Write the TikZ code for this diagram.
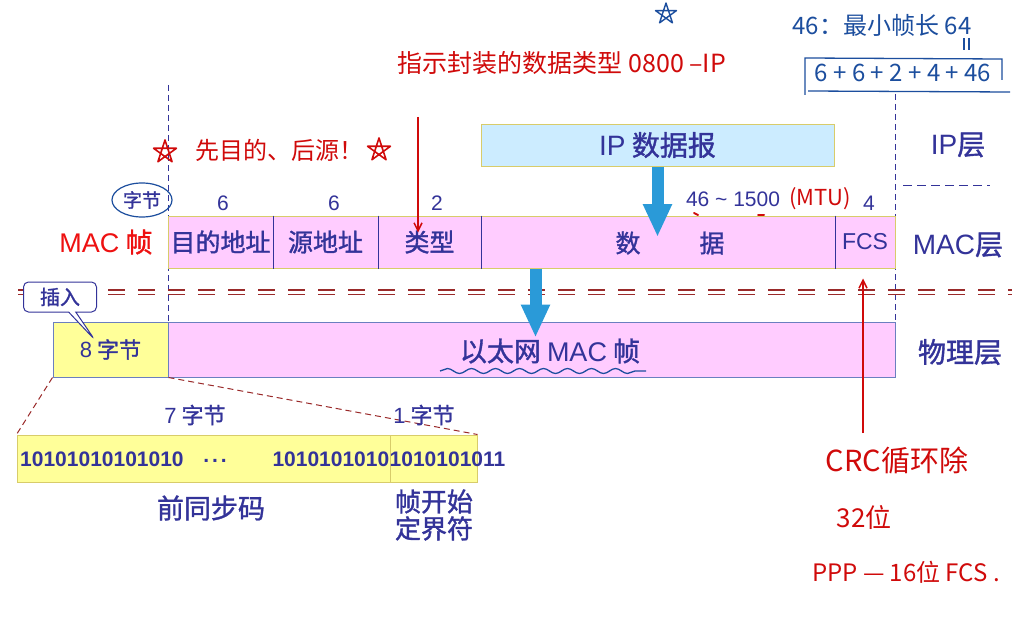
\documentclass[tikz,border=0pt]{standalone}
\usepackage{fontspec}
\setmainfont{Noto Sans CJK SC}
\newfontfamily\inkfont{Noto Sans CJK SC}[FakeBold=1.3]
\newfontfamily\arial{Liberation Sans}
\usetikzlibrary{arrows.meta,decorations.pathmorphing,shapes.callouts,shapes.geometric,calc}

\definecolor{ink}{HTML}{333399}
\definecolor{pinkfill}{HTML}{FFCCFF}
\definecolor{yelfill}{HTML}{FFFF99}
\definecolor{ipfill}{HTML}{CCECFF}
\definecolor{goldline}{HTML}{D8CC6A}
\definecolor{boxblue}{HTML}{6B7FC0}
\definecolor{penred}{HTML}{D00A0A}
\definecolor{macred}{HTML}{EE1111}
\definecolor{penblue}{HTML}{1C4E9E}
\definecolor{arrowblue}{HTML}{2A9AD8}
\definecolor{sepred}{HTML}{9A2A2A}

\tikzset{
  fs/.style={font=\fontsize{#1}{#1}\selectfont},
  fsb/.style={font=\inkfont\fontsize{#1}{#1}\selectfont},
  fsl/.style={font=\arial\fontsize{#1}{#1}\selectfont},
  binary/.style={text=ink, inner sep=0pt, font=\arial\bfseries\fontsize{21}{21}\selectfont},
  lbl/.style={text=ink, inner sep=0pt},
  note/.style={text=penred, inner sep=0pt},
  bluenote/.style={text=penblue, inner sep=0pt},
  field/.style={rectangle, fill=pinkfill, draw=goldline, line width=1pt,
    minimum height=52pt, inner sep=0pt, text=ink, fsb=25},
  physbox/.style={rectangle, draw=boxblue, line width=1pt,
    minimum height=55pt, inner sep=0pt, text=ink},
  prebox/.style={rectangle, fill=yelfill, draw=goldline, line width=1pt,
    minimum height=47pt, inner sep=0pt},
  guide/.style={ink, line width=1pt, dash pattern=on 6pt off 4pt},
  fatarrow/.style={arrowblue, line width=12pt, -{Triangle[length=33pt,width=27pt]}},
  penarrow/.style={penred, line width=1.5pt, -{Straight Barb[length=8pt,width=8pt]}},
  pentagram/.pic={\draw[pic actions, line join=round]
    (270:1) -- (54:1) -- (198:1) -- (342:1) -- (126:1) -- cycle;}
}

\begin{document}
\begin{tikzpicture}[x=1pt,y=-1pt]
\useasboundingbox[fill=white] (0,0) rectangle (1021,618);

% layer boundaries
\draw[guide] (168,85) -- (168,322);
\draw[guide] (895,94) -- (895,322);
\draw[ink, line width=1pt, dash pattern=on 9pt off 5pt] (903,185) -- (990,185);

% separator between MAC layer and physical layer
\draw[sepred, line width=1.3pt, dash pattern=on 17pt off 13pt] (18,290) -- (1012,290);
\draw[sepred, line width=1.3pt, dash pattern=on 17pt off 13pt] (18,294.5) -- (1012,294.5);

% IP datagram
\node[rectangle, fill=ipfill, draw=goldline, line width=1pt, minimum width=353pt,
  minimum height=42pt, inner sep=0pt, text=ink, fsb=28] (ip) at (657.5,145) {{\arial IP} 数据报};

% MAC frame fields
\node[field, minimum width=105pt] (dst) at (220.5,242) {目的地址};
\node[field, minimum width=105pt] (src) at (325.5,242) {源地址};
\node[field, minimum width=103pt] (type) at (429.5,242) {类型};
\node[field, minimum width=354pt] (data) at (658,242) {};
\node[field, minimum width=60pt, fsl=23] (fcs) at (865,242) {FCS};
\foreach \f in {dst,src,type,data}
  \draw[ink, line width=1.2pt] (\f.north east) -- (\f.south east);
\node[lbl, fsb=25] at (628,243) {数};
\node[lbl, fsb=25] at (712,243) {据};

% field sizes
\node[lbl, fsl=21] at (223,203) {6};
\node[lbl, fsl=21] at (334,203) {6};
\node[lbl, fsl=21] at (437,203) {2};
\node[lbl, fsl=21] at (733,199) {46 \char`~{} 1500};
\node[lbl, fsl=21] at (869,203) {4};
\node[ellipse, draw=penblue, line width=1.2pt, minimum width=60pt, minimum height=34pt,
  inner sep=0pt, text=ink, fsb=19] (unit) at (142,200) {字节};

% layer names
\node[text=macred, inner sep=0pt, fsb=27] at (106,242) {{\arial MAC} 帧};
\node[lbl, fsb=28] at (958,145) {{\arial IP}层};
\node[lbl, fsb=28] at (958,245) {{\arial MAC}层};
\node[lbl, fsb=28] at (960,352) {物理层};

% physical layer frame
\node[physbox, fill=yelfill, minimum width=115pt, fsb=22] (pre) at (110.5,349.5) {{\arial 8} 字节};
\node[physbox, fill=pinkfill, minimum width=727pt] (eth) at (531.5,349.5) {};
\node[lbl, fsb=27] (ethlbl) at (550,351) {以太网 {\arial MAC} 帧};
\draw[penblue, line width=1.3pt, decorate,
  decoration={snake, amplitude=2.5pt, segment length=24pt}] (440,371) -- (646,371);

% encapsulation arrows
\draw[fatarrow] (ip.south) -- ($(ip.south |- data.center)+(0,-5)$);
\draw[fatarrow] ($(data.south west)+(55,0)$) -- ($(data.south west |- eth.center)+(55,-12)$);

% insertion callout
\node[rectangle callout, rounded corners=5pt, draw=ink, fill=white, line width=1pt,
  minimum width=73pt, minimum height=30pt, inner sep=0pt, text=ink, fsb=20,
  callout absolute pointer={($(pre.center)+(-16,-10)$)}] (ins) at (60,297) {插入};

% preamble and start frame delimiter
\node[prebox, minimum width=373pt] (p7) at (203.5,458.5) {};
\node[prebox, minimum width=87pt] (p1) at (433.5,458.5) {};
\draw[sepred, line width=1pt, dash pattern=on 6pt off 4pt] (pre.south west) -- (p7.north west);
\draw[sepred, line width=1pt, dash pattern=on 6pt off 4pt] (pre.south east) -- (p1.north east);
\node[binary, anchor=west] at (20,459) {10101010101010};
\node[binary] at (215,461) {.\hspace{3pt}.\hspace{3pt}.};
\node[binary, anchor=east] at (p1.west |- 0,459) {1010101010};
\node[binary, anchor=west] at (p1.west |- 0,459) {1010101011};
\node[lbl, fsb=22] at (195,415) {{\arial 7} 字节};
\node[lbl, fsb=22] at (424,415) {{\arial 1} 字节};
\node[lbl, fsb=27] at (211,508) {前同步码};
\node[lbl, align=center, font=\inkfont\fontsize{26}{27}\selectfont] at (434,515) {帧开始\\定界符};

% handwritten notes (red)
\node[note, fs=25] (typenote) at (562,63) {指示封装的数据类型 0800 –IP};
\coordinate (typetail) at (418,117);
\draw[penarrow] (typetail) -- ($(type.north)+(-11.5,17)$);
\pic[draw=penred, line width=1.6pt, scale=12] at (165,152) {pentagram};
\node[note, fs=24] at (279,150) {先目的、后源！};
\pic[draw=penred, line width=1.6pt, scale=12] at (379,150) {pentagram};
\node[note, fs=22] at (820,199) {(MTU)};
\draw[penred, line width=2pt, line cap=round] (694,213) -- (698,215);
\draw[penred, line width=2pt, line cap=round] (758,215) -- (764,215);
\coordinate (crctail) at (863,433);
\draw[penarrow] (crctail) -- ($(fcs.south)+(-2,10)$);
\node[note, fs=29] at (897,460) {CRC循环除};
\node[note, fs=26] at (864,517) {32位};
\node[note, fs=24] at (906,572) {PPP — 16位 FCS .};

% handwritten notes (blue)
\pic[draw=penblue, line width=1.4pt, scale=11] at (666,14) {pentagram};
\node[bluenote, fs=24] at (882,25) {46：最小帧长 64};
\draw[penblue, line width=1.2pt] (964,38) -- (964,50) (969,38) -- (969,50);
\node[bluenote, fs=24] at (903,73) {6 + 6 + 2 + 4 + 46};
\draw[penblue, line width=1.3pt] (805,95) -- (805,58) -- (1002,59) -- (1002,80);
\draw[penblue, line width=1.3pt] (808,91) -- (1010,92);
\end{tikzpicture}
\end{document}
